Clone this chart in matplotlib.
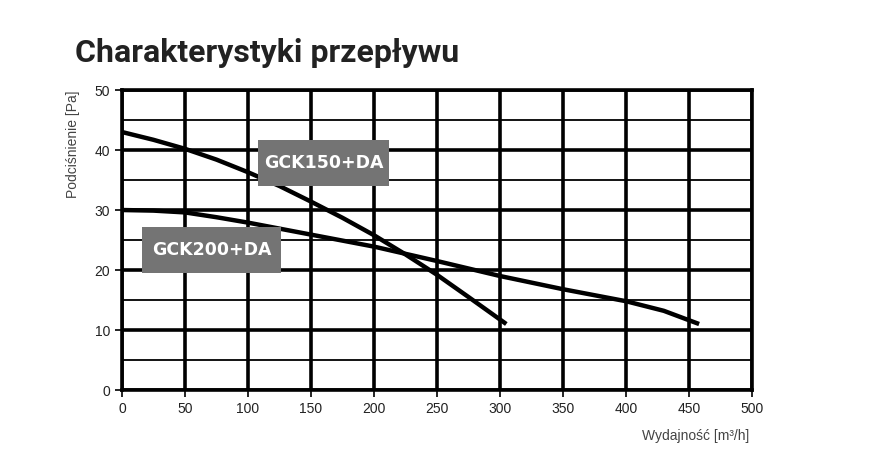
import numpy as np
import matplotlib.pyplot as plt
from matplotlib.patches import Rectangle

# flow characteristics
q150 = [0, 25, 50, 75, 100, 125, 150, 175, 200, 225, 250, 275, 305]
p150 = [43, 41.7, 40.2, 38.4, 36.3, 34.0, 31.4, 28.7, 25.8, 22.6, 19.2, 15.5, 11.0]
q200 = [0, 25, 50, 75, 100, 150, 200, 250, 300, 350, 400, 430, 458]
p200 = [30, 29.9, 29.6, 28.8, 27.9, 25.9, 23.9, 21.5, 19.0, 16.8, 14.8, 13.2, 11.0]
names = ['GCK150+DA', 'GCK200+DA']

fig = plt.figure(figsize=(8.7, 4.75), dpi=100)
ax = fig.add_axes([0.1402, 0.1789, 0.7242, 0.6316])

ax.set_xlim(0, 500)
ax.set_ylim(0, 50)
ax.set_xticks(np.arange(0, 501, 50))
ax.set_yticks(np.arange(0, 51, 10))
ax.set_yticks(np.arange(5, 50, 10), minor=True)
ax.tick_params(axis='y', which='minor', length=0)
ax.tick_params(which='major', direction='out', length=5, width=1.2, color='black',
               labelsize=10, labelcolor='#222222')
ax.grid(which='major', color='black', linewidth=2.6)
ax.grid(which='minor', axis='y', color='black', linewidth=1.3)
for s in ax.spines.values():
    s.set_linewidth(2.6)
for lab in ax.get_xticklabels() + ax.get_yticklabels():
    lab.set_family('Liberation Sans')

ax.plot(q150, p150, color='black', lw=3.2, solid_capstyle='butt', zorder=5)
ax.plot(q200, p200, color='black', lw=3.2, solid_capstyle='butt', zorder=5)

# grey name plates (x0, y0, w, h in data units)
plates = [(108, 34.0, 104, 7.7), (16, 19.5, 110, 7.7)]
for name, (x0, y0, w, h) in zip(names, plates):
    ax.add_patch(Rectangle((x0, y0), w, h, fc='#747474', ec='none', zorder=6))
    ax.text(x0 + w / 2, y0 + h / 2, name, fontsize=12.5, fontweight='bold',
            color='white', ha='center', va='center', zorder=7)

fig.text(0.086, 0.888, 'Charakterystyki przepływu', fontsize=23, fontweight='bold',
         color='#222222', ha='left', va='center', family='Roboto')
fig.text(0.861, 0.082, 'Wydajność [m³/h]', fontsize=10, color='#444444',
         ha='right', va='center', family='Liberation Sans')
fig.text(0.084, 0.697, 'Podciśnienie [Pa]', fontsize=10, color='#444444',
         ha='center', va='center', rotation=90, family='Liberation Sans')

fig.savefig('out.png', dpi=100)
